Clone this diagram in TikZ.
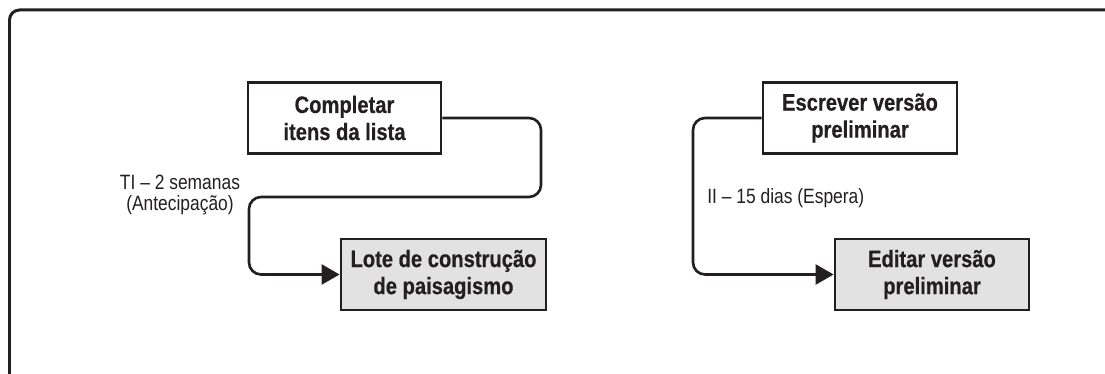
\documentclass[tikz,border=0pt]{standalone}
\usepackage{fontspec}
\setmainfont{Liberation Sans}[FakeStretch=0.84]
\newfontfamily\taskfont{Liberation Sans Bold}[FakeStretch=0.85,FakeBold=0.5]
\usepackage{tikz}
\usetikzlibrary{arrows.meta,positioning}
\definecolor{plangray}{HTML}{E2E2E2}
\definecolor{planink}{HTML}{231F20}

\begin{document}
\begin{tikzpicture}[
  task/.style={draw=planink,line width=1.6pt,minimum height=1.42cm,align=center,font=\fontsize{13.5}{15.4}\selectfont\taskfont,fill=white,inner sep=0pt,text=planink},
  later/.style={task,fill=plangray},
  arrow/.style={-{Triangle[length=3.6mm,width=4mm]},line width=1.5pt,draw=planink,rounded corners=2.4mm},
  note/.style={font=\fontsize{11.8}{11.5}\selectfont,align=center,inner sep=0pt,text=planink},
  frame/.style={draw=planink,line width=1.7pt,rounded corners=2mm}
]
\useasboundingbox (0,0) rectangle (22.1,7.48);
\draw[frame] (0.19,-1) -- (0.19,7.28) -- (23,7.28);
\node[task,minimum width=3.86cm] (list) at (6.89,5.12) {Completar\\itens da lista};
\node[later,minimum width=4.1cm] (lote) at (8.87,1.99) {Lote de construção\\de paisagismo};
\node[task,minimum width=3.88cm] (draft) at (17.2,5.12) {Escrever versão\\preliminar};
\node[later,minimum width=3.88cm] (edit) at (18.64,1.99) {Editar versão\\preliminar};
\draw[arrow] (list.east) -| (10.82,3.54) -- (4.98,3.54) |- (lote.west);
\draw[arrow] (draft.west) -| (13.86,1.99) -- (edit.west);
\node[note] (lead) at (3.6,3.58) {TI – 2 semanas\\(Antecipação)};
\node[note,anchor=west] (wait) at (14.14,3.52) {II – 15 dias (Espera)};
\end{tikzpicture}
\end{document}
